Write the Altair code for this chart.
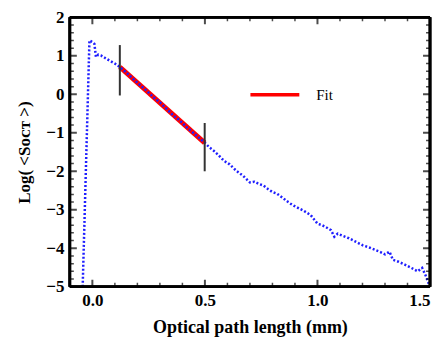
import altair as alt
import pandas as pd

# OCT signal (log) vs optical path length
xs = [-0.043, -0.013, 0.000, 0.009, 0.016, 0.026, 0.038, 0.055, 0.075, 0.100,
      0.122, 0.150, 0.180, 0.210, 0.240, 0.270, 0.300, 0.330, 0.360, 0.390,
      0.420, 0.450, 0.480, 0.500, 0.520, 0.540, 0.560, 0.585, 0.610, 0.640,
      0.670, 0.700, 0.720, 0.740, 0.760, 0.780, 0.800, 0.820, 0.850, 0.870,
      0.890, 0.920, 0.940, 0.970, 1.000, 1.020, 1.040, 1.060, 1.075, 1.090,
      1.110, 1.140, 1.160, 1.180, 1.200, 1.230, 1.255, 1.280, 1.300, 1.320,
      1.335, 1.360, 1.390, 1.420, 1.445, 1.465, 1.480, 1.490, 1.500]
ys = [-5.00, 1.40, 1.36, 1.31, 0.97, 1.03, 1.01, 0.95, 0.88, 0.80,
      0.71, 0.57, 0.41, 0.25, 0.10, -0.07, -0.21, -0.38, -0.55, -0.69,
      -0.86, -1.01, -1.16, -1.26, -1.38, -1.47, -1.58, -1.73, -1.82, -1.99,
      -2.12, -2.29, -2.27, -2.33, -2.37, -2.46, -2.54, -2.58, -2.71, -2.80,
      -2.88, -2.97, -3.03, -3.14, -3.36, -3.40, -3.46, -3.53, -3.70, -3.62,
      -3.67, -3.74, -3.80, -3.86, -3.92, -3.98, -4.04, -4.10, -4.16, -4.09,
      -4.30, -4.35, -4.43, -4.52, -4.60, -4.51, -4.70, -4.86, -5.00]

fit_x = [0.122, 0.499]
fit_y = [0.71, -1.26]
fit_name = ["Fit", "Fit"]

bar_x = [0.122, 0.499]
bar_lo = [-0.03, -2.00]
bar_hi = [1.28, -0.745]

x_major = [0.0, 0.5, 1.0, 1.5]
x_minor = [-0.1, 0.1, 0.2, 0.3, 0.4, 0.6, 0.7, 0.8, 0.9, 1.1, 1.2, 1.3, 1.4]
y_major = [-5, -4, -3, -2, -1, 0, 1, 2]
y_minor = [round(-5 + 0.2 * i, 1) for i in range(36) if i % 5 != 0]

W, H = 361, 270
FONT = "Liberation Serif"

xscale = alt.Scale(domain=[-0.1, 1.5], nice=False, zero=False)
yscale = alt.Scale(domain=[-5, 2], nice=False, zero=False)

curve = pd.DataFrame({"x": xs, "y": ys})
fit = pd.DataFrame({"x": fit_x, "y": fit_y, "s": fit_name})
bars = pd.DataFrame({"x": bar_x, "lo": bar_lo, "hi": bar_hi})
xmaj = pd.DataFrame({"v": x_major})
xmin = pd.DataFrame({"v": x_minor})
ymaj = pd.DataFrame({"v": y_major})
ymin = pd.DataFrame({"v": y_minor})

X_AX = alt.Axis(values=x_major, format=".1f", ticks=False, domain=False,
                grid=False, labelFont=FONT, labelFontWeight="bold",
                labelFontSize=17, labelColor="black", labelPadding=6,
                labelOverlap=False,
                title="Optical path length (mm)", titleFont=FONT,
                titleFontWeight="bold", titleFontSize=18,
                titleColor="black", titlePadding=10)
Y_AX = alt.Axis(values=y_major, format="d", ticks=False, domain=False,
                grid=False, labelFont=FONT, labelFontWeight="bold",
                labelFontSize=17, labelColor="black", labelPadding=6,
                labelOverlap=False,
                title="Log( <Sᴏᴄᴛ >)", titleFont=FONT,
                titleFontWeight="bold", titleFontSize=17,
                titleColor="black", titlePadding=12)


def X(f):
    return alt.X(f, scale=xscale, axis=X_AX)


def Y(f):
    return alt.Y(f, scale=yscale, axis=Y_AX)


fit_layer = alt.Chart(fit).mark_line(strokeWidth=5).encode(
    x=X("x:Q"), y=Y("y:Q"),
    color=alt.Color("s:N", scale=alt.Scale(domain=["Fit"], range=["#ff0000"]),
                    legend=alt.Legend(title=None, orient="none", legendX=179,
                                      legendY=51, symbolType="stroke",
                                      symbolStrokeWidth=3.5, symbolSize=2401,
                                      labelFont=FONT, labelFontSize=15,
                                      labelColor="black", labelOffset=15,
                                      padding=0)))

curve_layer = alt.Chart(curve).mark_line(
    color="#1f1fff", strokeWidth=2.5, strokeDash=[2, 2], clip=True
).encode(x=X("x:Q"), y=Y("y:Q"), order=alt.Order("x:Q"))

bar_layer = alt.Chart(bars).mark_rule(color="#333333", strokeWidth=2).encode(
    x=X("x:Q"), y=Y("lo:Q"), y2="hi:Q")


def xticks(df, size, thick, ypix):
    return alt.Chart(df).mark_tick(color="black", size=size, thickness=thick,
                                   clip=True).encode(x=X("v:Q"), y=alt.value(ypix))


def yticks(df, size, thick, xpix):
    return alt.Chart(df).mark_tick(color="black", size=size, thickness=thick,
                                   clip=True).encode(y=Y("v:Q"), x=alt.value(xpix))


ticks = [
    xticks(xmaj, 14, 2, H), xticks(xmin, 8, 1.5, H),
    xticks(xmaj, 14, 2, 0), xticks(xmin, 8, 1.5, 0),
    yticks(ymaj, 14, 2, 0), yticks(ymin, 8, 1.5, 0),
    yticks(ymaj, 14, 2, W), yticks(ymin, 8, 1.5, W),
]

frame_style = dict(color="black", strokeWidth=2.5)
frame = [
    alt.Chart(xmaj).mark_rule(**frame_style).encode(
        x=alt.value(0), x2=alt.value(W), y=alt.value(0)),
    alt.Chart(xmaj).mark_rule(**frame_style).encode(
        x=alt.value(0), x2=alt.value(W), y=alt.value(H)),
    alt.Chart(xmaj).mark_rule(**frame_style).encode(
        x=alt.value(0), y=alt.value(0), y2=alt.value(H)),
    alt.Chart(xmaj).mark_rule(**frame_style).encode(
        x=alt.value(W), y=alt.value(0), y2=alt.value(H)),
]

chart = alt.layer(fit_layer, curve_layer, bar_layer, *ticks, *frame).properties(
    width=W, height=H,
    autosize=alt.AutoSizeParams(type="none"),
    padding={"left": 62, "top": 9, "right": 6, "bottom": 50},
).configure_view(strokeWidth=0).configure_axis(labelOverlap=False).configure(
    background="white")

chart.save("out.html", embed_options={"renderer": "svg", "actions": False})
